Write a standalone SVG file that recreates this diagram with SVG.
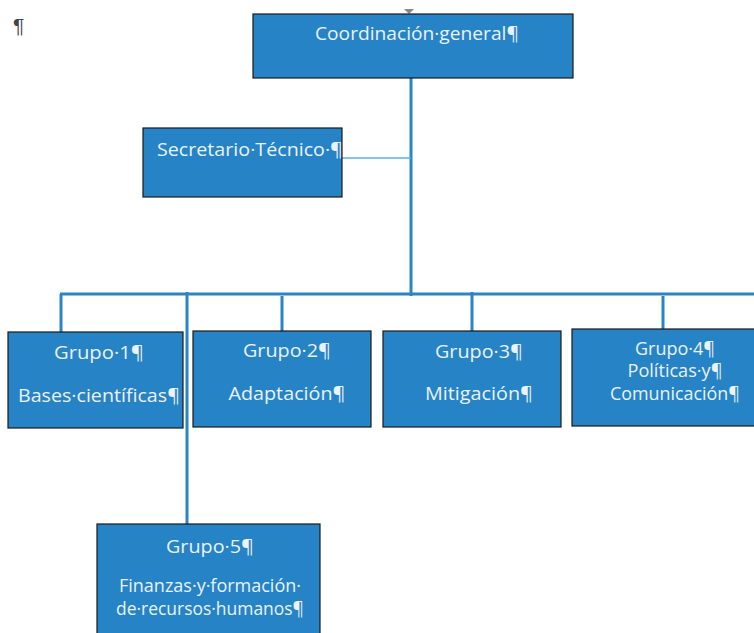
<svg xmlns="http://www.w3.org/2000/svg" width="754" height="633" viewBox="0 0 754 633">
<style>
.box{fill:#2683C6;stroke:#1a1a1a;stroke-width:1.2}
.t{font-family:"Open Sans","Noto Sans",sans-serif;font-size:18px;fill:#EAF2FA;text-anchor:middle}
.c{stroke:#2A84C8;stroke-width:3;fill:none}
.thin{stroke:#4FB3E8;stroke-width:1.3;fill:none}
</style>
<rect width="754" height="633" fill="#ffffff"/>
<text x="13" y="33" style="font-family:'Liberation Sans',sans-serif;font-size:21px;fill:#444">¶</text>
<polygon points="404,9 414,9 409,14" fill="#888"/>
<g id="connectors">
<line class="c" x1="411" y1="78" x2="411" y2="296"/>
<line class="thin" x1="342" y1="158" x2="411" y2="158"/>
<line class="c" x1="60" y1="294" x2="754" y2="294"/>
<line class="c" x1="61" y1="294" x2="61" y2="332"/>
<line class="c" x1="187" y1="292" x2="187" y2="524"/>
<line class="c" x1="282" y1="296" x2="282" y2="331"/>
<line class="c" x1="472" y1="292" x2="472" y2="331"/>
<line class="c" x1="663" y1="296" x2="663" y2="329"/>
</g>
<g id="coordinacion">
<rect class="box" x="253" y="14" width="320" height="64"/>
<text class="t" x="417" y="40" textLength="204" lengthAdjust="spacingAndGlyphs">Coordinación·general¶</text>
</g>
<g id="secretario">
<rect class="box" x="143" y="128" width="199" height="69"/>
<text class="t" x="250" y="156" textLength="186" lengthAdjust="spacingAndGlyphs">Secretario·Técnico·¶</text>
</g>
<g id="grupo1">
<rect class="box" x="8" y="332" width="175" height="96"/>
<text class="t" x="99" y="359" textLength="90" lengthAdjust="spacingAndGlyphs">Grupo·1¶</text>
<text class="t" x="99" y="402" textLength="162" lengthAdjust="spacingAndGlyphs">Bases·científicas¶</text>
</g>
<g id="grupo2">
<rect class="box" x="193" y="331" width="178" height="96"/>
<text class="t" x="287" y="357" textLength="88" lengthAdjust="spacingAndGlyphs">Grupo·2¶</text>
<text class="t" x="287" y="400" textLength="117" lengthAdjust="spacingAndGlyphs">Adaptación¶</text>
</g>
<g id="grupo3">
<rect class="box" x="383" y="331" width="178" height="96"/>
<text class="t" x="479" y="358" textLength="88" lengthAdjust="spacingAndGlyphs">Grupo·3¶</text>
<text class="t" x="479" y="400" textLength="108" lengthAdjust="spacingAndGlyphs">Mitigación¶</text>
</g>
<g id="grupo4">
<rect class="box" x="572" y="329" width="185" height="97"/>
<text class="t" x="675" y="355" textLength="80" lengthAdjust="spacingAndGlyphs">Grupo·4¶</text>
<text class="t" x="675" y="377" textLength="95" lengthAdjust="spacingAndGlyphs">Políticas·y¶</text>
<text class="t" x="675" y="400" textLength="130" lengthAdjust="spacingAndGlyphs">Comunicación¶</text>
</g>
<g id="grupo5">
<rect class="box" x="97" y="524" width="223" height="115"/>
<text class="t" x="210" y="553" textLength="88" lengthAdjust="spacingAndGlyphs">Grupo·5¶</text>
<text class="t" x="210" y="592" textLength="182" lengthAdjust="spacingAndGlyphs">Finanzas·y·formación·</text>
<text class="t" x="210" y="615" textLength="188" lengthAdjust="spacingAndGlyphs">de·recursos·humanos¶</text>
</g>
</svg>
